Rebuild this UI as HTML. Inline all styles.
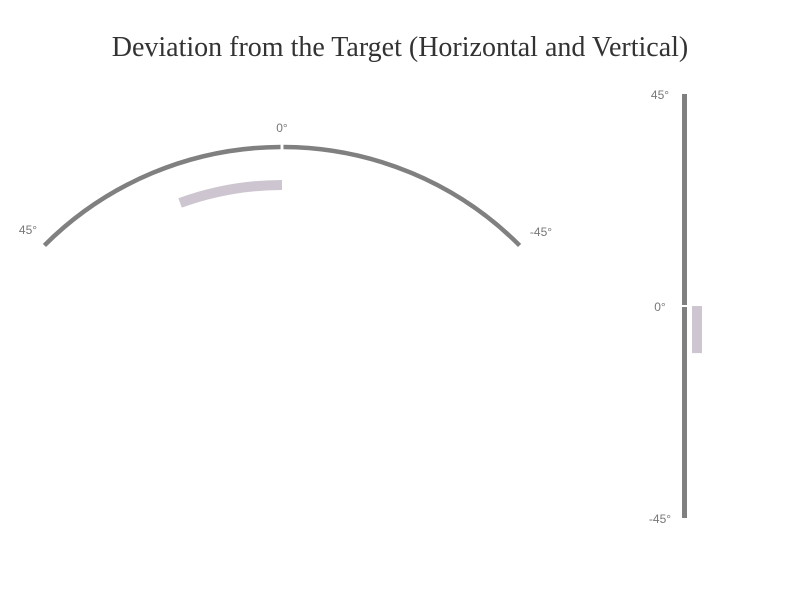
<!DOCTYPE html>
<html><head><meta charset="utf-8"><style>
body{margin:0;background:#fff}
svg text{font-family:"Liberation Sans",sans-serif;font-size:12px;fill:#777}
</style></head><body>
<svg width="800" height="600">
<text x="400" y="56" text-anchor="middle" style="font-family:'Liberation Serif',serif;font-size:28px;fill:#333">Deviation from the Target (Horizontal and Vertical)</text>
<g id="g"></g>
</svg>
<script>
const hValues=[20];
const vValues=[-10];
const tickLabels=["45°","0°","-45°"];
const NS="http://www.w3.org/2000/svg",g=document.getElementById('g');
function mk(t,a){const e=document.createElementNS(NS,t);for(const k in a)e.setAttribute(k,a[k]);g.appendChild(e);return e;}
const cx=282,cy=483,R=336,r=298;
function pt(rad,deg){const a=deg*Math.PI/180;return [cx-rad*Math.sin(a),cy-rad*Math.cos(a)];}
function arc(rad,d1,d2){const p=pt(rad,d1),q=pt(rad,d2);return `M${p[0]},${p[1]} A${rad},${rad} 0 0 ${d1>d2?1:0} ${q[0]},${q[1]}`;}
let e=mk('path',{d:arc(R,45,0.25),stroke:'#808080','stroke-width':4.5,fill:'none'});

e=mk('path',{d:arc(R,-45,-0.25),stroke:'#808080','stroke-width':4.5,fill:'none'});

hValues.forEach(v=>{const p=mk('path',{d:arc(r,v,0),stroke:'#cdc6d1','stroke-width':10,fill:'none'});
});
const hl=[[28,234],[282,132],[541,236]];
hl.forEach((l,i)=>{const t=mk('text',{x:l[0],y:l[1],'text-anchor':'middle'});t.textContent=tickLabels[i];
});
const x0=684.5,y0=306,s=212/45;
function vy(v){return y0-v*s;}
e=mk('line',{x1:x0,x2:x0,y1:vy(45),y2:vy(0)-1,stroke:'#808080','stroke-width':5});

e=mk('line',{x1:x0,x2:x0,y1:vy(0)+1,y2:vy(-45),stroke:'#808080','stroke-width':5});

vValues.forEach(v=>{const b=mk('rect',{x:692,y:Math.min(vy(0),vy(v)),width:10,height:Math.abs(vy(v)-vy(0)),fill:'#cdc6d1'});
});
[45,0,-45].forEach((v,i)=>{const t=mk('text',{x:660,y:vy(v)+5,'text-anchor':'middle'});t.textContent=tickLabels[i];
});
</script>
</body></html>
